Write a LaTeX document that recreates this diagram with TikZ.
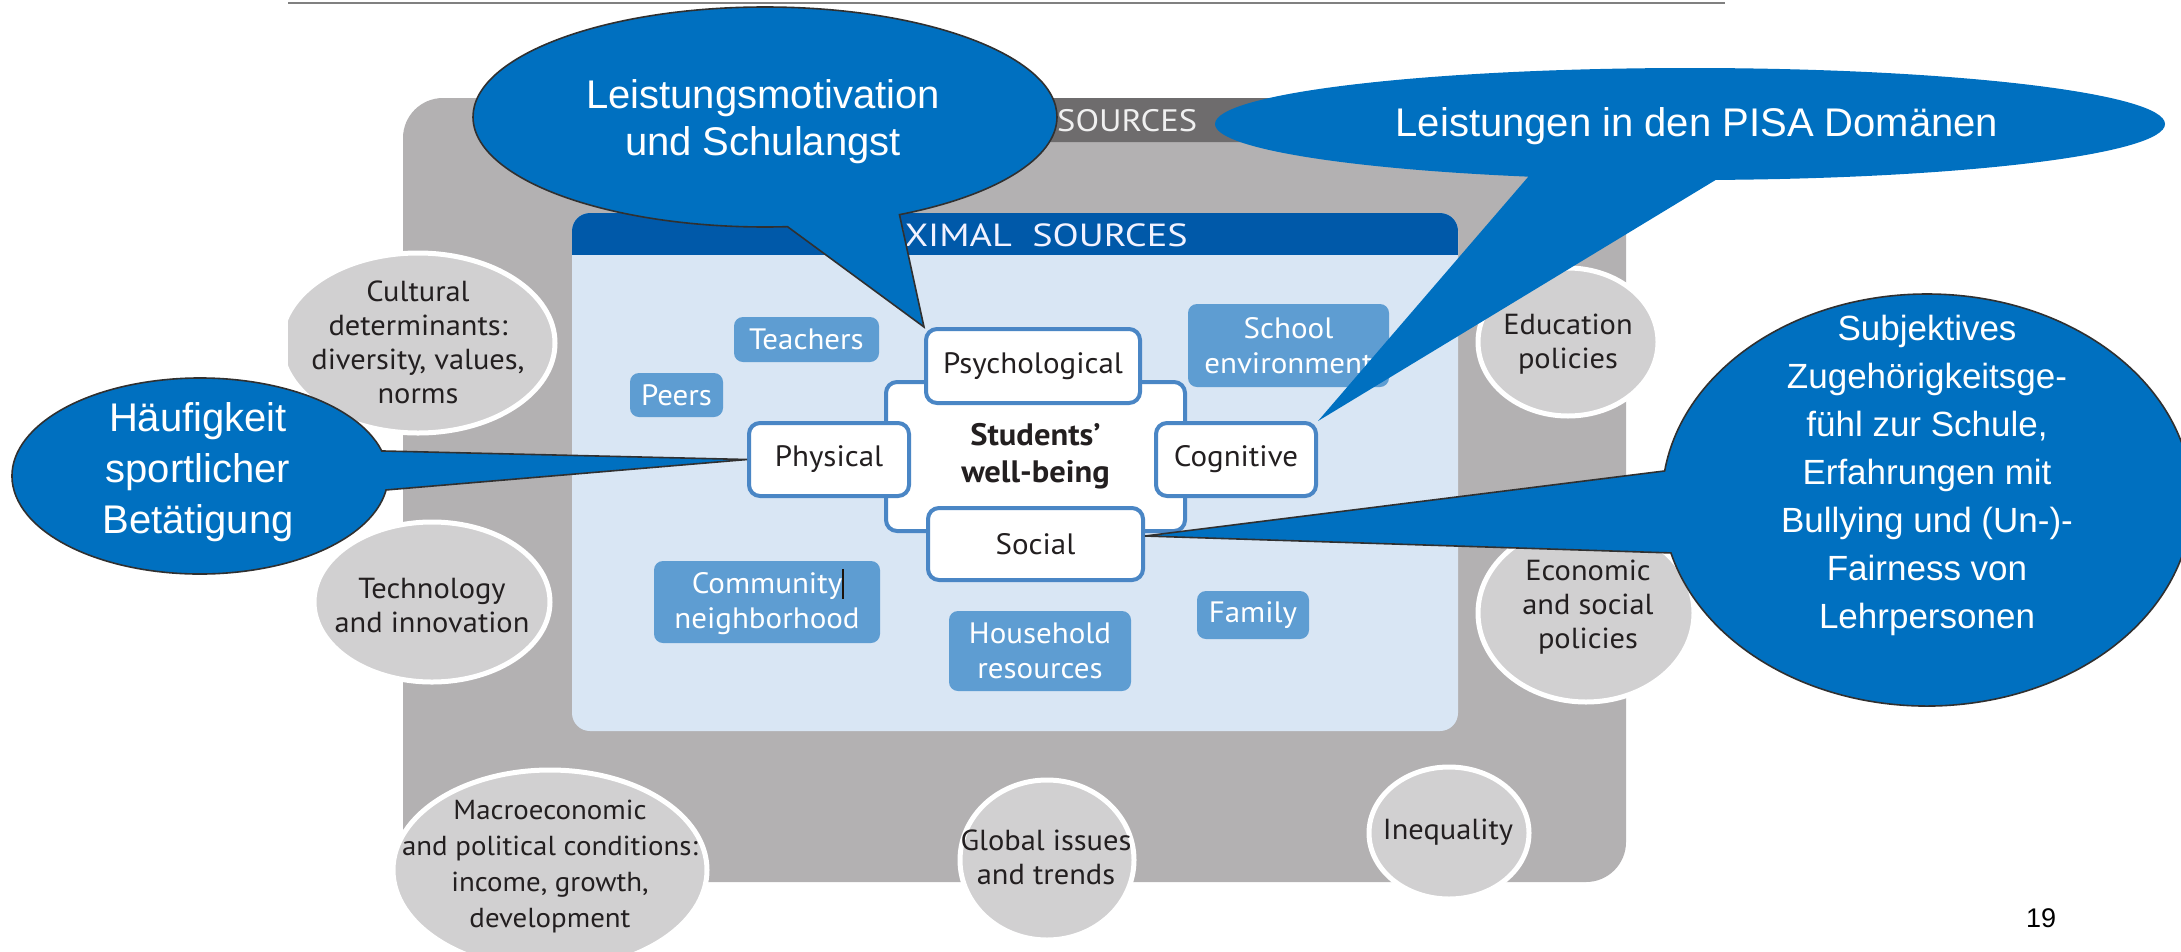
\documentclass[tikz,border=0pt]{standalone}
\usepackage{fontspec}
\setmainfont{PT Sans}[FakeStretch=1.05]
\newfontfamily\callfont{Liberation Sans}
\usetikzlibrary{shapes.geometric,shapes.callouts}
\definecolor{outergray}{HTML}{B3B1B2}
\definecolor{tabgray}{HTML}{6E6C6D}
\definecolor{ellgray}{HTML}{D1D0D1}
\definecolor{innerblue}{HTML}{D9E6F4}
\definecolor{headblue}{HTML}{0059A9}
\definecolor{boxblue}{HTML}{5E9DD2}
\definecolor{borderblue}{HTML}{4A86C5}
\definecolor{callblue}{HTML}{0070C0}
\definecolor{calledge}{HTML}{303030}
\definecolor{oecdtext}{HTML}{231F20}
\tikzset{
  oecdell/.style={ellipse, fill=ellgray, draw=white, line width=5pt, inner sep=0pt},
  oecdtxt/.style={align=center, text=oecdtext, inner sep=0pt, font=\fontsize{29}{34}\selectfont},
  smallbox/.style={rectangle, rounded corners=9pt, fill=boxblue, text=white, align=center, inner sep=0pt, font=\fontsize{29.5}{35}\selectfont},
  wbox/.style={rectangle, rounded corners=11pt, fill=white, draw=borderblue, line width=4pt, inner sep=0pt, align=center, text=oecdtext, font=\fontsize{29.5}{35}\selectfont},
  callout/.style={ellipse callout, fill=callblue, draw=calledge, line width=1.6pt, inner sep=0pt, callout pointer arc=23},
  calltxt/.style={align=center, text=white, inner sep=0pt, font=\callfont\fontsize{40}{47}\selectfont}
}
\begin{document}
\begin{tikzpicture}[x=1pt,y=-1pt]
\useasboundingbox (0,0) rectangle (2181,951);
\fill[white] (0,0) rectangle (2181,951);
% top rule
\coordinate (tl1) at (288,3);
\coordinate (tl2) at (1725,3);
\draw[gray, line width=2.5pt] (tl1) -- (tl2);
% outer frame
\fill[outergray, rounded corners=40pt] (403,98) rectangle (1626,882);
\fill[tabgray, rounded corners=8pt] (700,98) rectangle (1280,142);
\node[anchor=west, text=white!88!gray, inner sep=0pt, font=\fontsize{31}{31}\selectfont] (distal) at (1057,121) {\scalebox{1.06}[1]{SOURCES}};
% inner frame
\fill[innerblue, rounded corners=18pt] (572,213) rectangle (1458,731);
\begin{scope}
\clip[rounded corners=18pt] (572,213) rectangle (1458,731);
\fill[headblue] (572,213) rectangle (1458,255);
\end{scope}
\node[anchor=west, text=white!95!blue, inner sep=0pt, font=\fontsize{32}{32}\selectfont] (prox) at (880,235) {\scalebox{1.14}[1]{OXIMAL\ \ SOURCES}};
% distal ellipses
\begin{scope}
\clip (288,0) rectangle (2181,951);
\node[oecdell, minimum width=274pt, minimum height=180pt] (cult) at (418,343) {};
\end{scope}
\node[oecdell, minimum width=236pt, minimum height=160pt] (tech) at (432,602) {};
\node[oecdell, minimum width=314pt, minimum height=200pt] (macro) at (550,870) {};
\node[oecdell, minimum width=174pt, minimum height=160pt] (glob) at (1047,860) {};
\node[oecdell, minimum width=160pt, minimum height=132pt] (ineq) at (1449,833) {};
\node[oecdell, minimum width=180pt, minimum height=148pt] (edu) at (1568,342) {};
\node[oecdell, minimum width=216pt, minimum height=178pt] (econ) at (1586,613) {};
\node[oecdtxt] (cultT) at (418,342) {Cultural\\determinants:\\diversity, values,\\norms};
\node[oecdtxt] (techT) at (432,606) {Technology\\and innovation};
\node[oecdtxt, font=\fontsize{27.5}{36}\selectfont] (macroT) at (550,866) {Macroeconomic\\and political conditions:\\income, growth,\\development};
\node[oecdtxt] (globT) at (1046,857) {Global issues\\and trends};
\node[oecdtxt] (ineqT) at (1448,832) {Inequality};
\node[oecdtxt] (eduT) at (1568,344) {Education\\policies};
\node[oecdtxt] (econT) at (1588,607) {Economic\\and social\\policies};
% proximal boxes
\node[smallbox, minimum width=145pt, minimum height=45pt] (teach) at (806.5,339.5) {Teachers};
\node[smallbox, minimum width=93pt, minimum height=44pt] (peers) at (676.5,395) {Peers};
\node[smallbox, minimum width=201pt, minimum height=83pt] (school) at (1288.5,345.5) {School\\environment};
\node[smallbox, minimum width=226pt, minimum height=82pt] (comm) at (767,602) {Community\makebox[0pt][l]{\color{black!85!brown}\rule[-5pt]{2pt}{30pt}}\\neighborhood};
\node[smallbox, minimum width=182pt, minimum height=80pt] (house) at (1040,651) {Household\\resources};
\node[smallbox, minimum width=112pt, minimum height=48pt] (family) at (1253,615) {Family};
% well-being boxes
\node[wbox, minimum width=299pt, minimum height=149pt, font=\bfseries\fontsize{31}{37}\selectfont] (swb) at (1035.5,456.5) {Students’\\well-being};
\node[wbox, minimum width=214pt, minimum height=74pt] (psy) at (1033,366) {Psychological};
\node[wbox, minimum width=160pt, minimum height=73pt] (phys) at (829,459.5) {Physical};
\node[wbox, minimum width=160pt, minimum height=73pt] (cog) at (1236,459.5) {Cognitive};
\node[wbox, minimum width=215pt, minimum height=72pt] (soc) at (1035.5,544) {Social};
% callouts
\node[callout, minimum width=584pt, minimum height=220pt, callout absolute pointer={(psy.north west)}] (c1) at (765,117) {};
\node[calltxt] (c1T) at (763,122) {Leistungsmotivation\\und Schulangst};
\node[callout, draw=none, minimum width=950pt, minimum height=112pt, callout absolute pointer={(cog.north east)}] (c2) at (1690,124) {};
\node[calltxt] (c2T) at (1697,126) {Leistungen in den PISA Domänen};
\node[callout, minimum width=376pt, minimum height=196pt, callout absolute pointer={(phys.west)}] (c3) at (200,476) {};
\node[calltxt, font=\callfont\fontsize{40}{51}\selectfont] (c3T) at (198,472) {Häufigkeit\\sportlicher\\Betätigung};
\node[callout, minimum width=530pt, minimum height=412pt, callout absolute pointer={([yshift=8pt]soc.east)}] (c4) at (1927,500) {};
\node[calltxt, font=\callfont\fontsize{35}{48}\selectfont] (c4T) at (1927,475) {Subjektives\\Zugehörigkeitsge-\\fühl zur Schule,\\Erfahrungen mit\\Bullying und (Un-)-\\Fairness von\\Lehrpersonen};
% page number
\node[inner sep=0pt, font=\callfont\fontsize{27}{27}\selectfont] (pg) at (2041,918) {19};
\end{tikzpicture}
\end{document}
